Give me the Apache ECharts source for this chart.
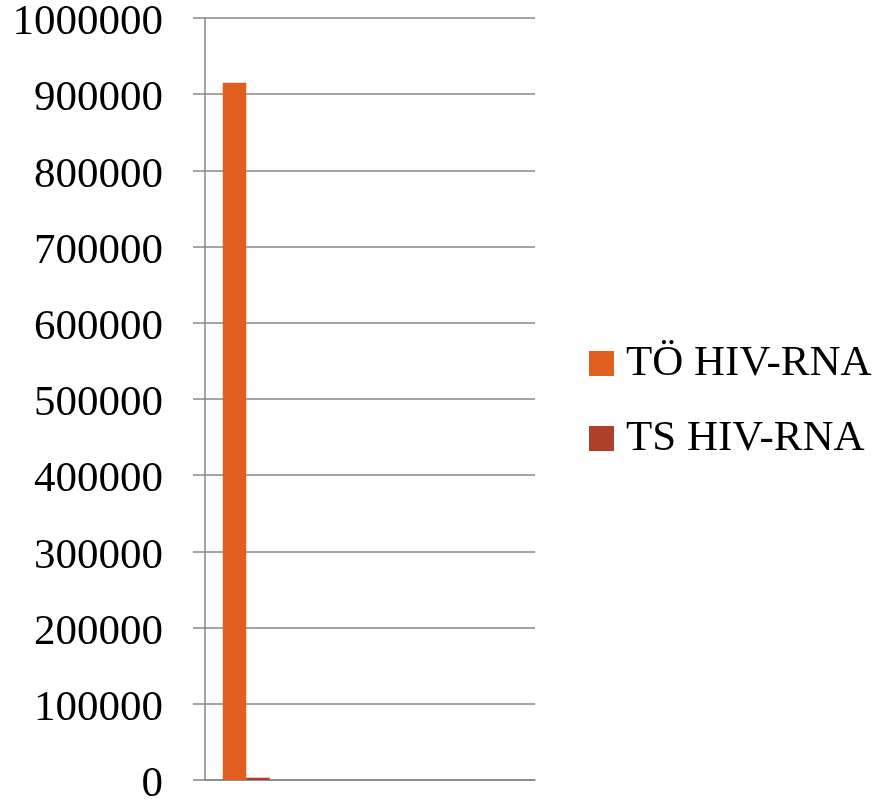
<!DOCTYPE html>
<html>
<head>
<meta charset="utf-8">
<script src="https://cdn.jsdelivr.net/npm/echarts@6/dist/echarts.min.js"></script>
<style>
  html, body { margin: 0; padding: 0; background: #fff; }
  #chart { width: 891px; height: 802px; }
</style>
</head>
<body>
<div id="chart"></div>
<script>
// Category slots along the x axis (unlabelled)
const categories = ['', '', '', ''];
// Viral load values per series
const toValues = [915000, null, null, null];
const tsValues = [3000, null, null, null];
const seriesNames = ['TÖ HIV-RNA', 'TS HIV-RNA'];
// Y axis range
const yMin = 0;
const yMax = 1000000;
const yStep = 100000;

const chart = echarts.init(document.getElementById('chart'), null, { renderer: 'canvas' });
const serif = '"Liberation Serif", "DejaVu Serif", serif';
const gridGrey = '#878787';

chart.setOption({
  animation: false,
  backgroundColor: '#ffffff',
  grid: { left: 205, right: 356, top: 18, bottom: 22, containLabel: false, outerBoundsMode: 'none' },
  legend: {
    orient: 'vertical',
    left: 584,
    top: 337,
    itemWidth: 25,
    itemHeight: 25,
    itemGap: 32,
    icon: 'rect',
    textStyle: { fontFamily: serif, fontSize: 43, color: '#000', padding: [0, 0, 0, 7] },
    data: seriesNames
  },
  xAxis: {
    type: 'category',
    data: categories,
    axisLine: { show: true, lineStyle: { color: gridGrey, width: 1.5 } },
    axisTick: { show: false },
    axisLabel: { show: false },
    splitLine: { show: false }
  },
  yAxis: {
    type: 'value',
    min: yMin,
    max: yMax,
    interval: yStep,
    axisLine: { show: true, lineStyle: { color: gridGrey, width: 1.5 } },
    axisTick: { show: true, length: 12, lineStyle: { color: gridGrey, width: 1.5 } },
    axisLabel: {
      fontFamily: serif,
      fontSize: 43,
      color: '#000',
      margin: 42,
      // labels sit slightly below their tick line
      verticalAlign: 'top',
      lineHeight: 10,
      formatter: (v) => String(v)
    },
    splitLine: { show: true, lineStyle: { color: gridGrey, width: 1.5 } }
  },
  series: [
    {
      name: seriesNames[0],
      type: 'bar',
      data: toValues,
      barGap: '0%',
      barCategoryGap: '43%',
      itemStyle: { color: '#E05F1E' }
    },
    {
      name: seriesNames[1],
      type: 'bar',
      data: tsValues,
      itemStyle: { color: '#AE3F29' }
    }
  ]
});
</script>
</body>
</html>
